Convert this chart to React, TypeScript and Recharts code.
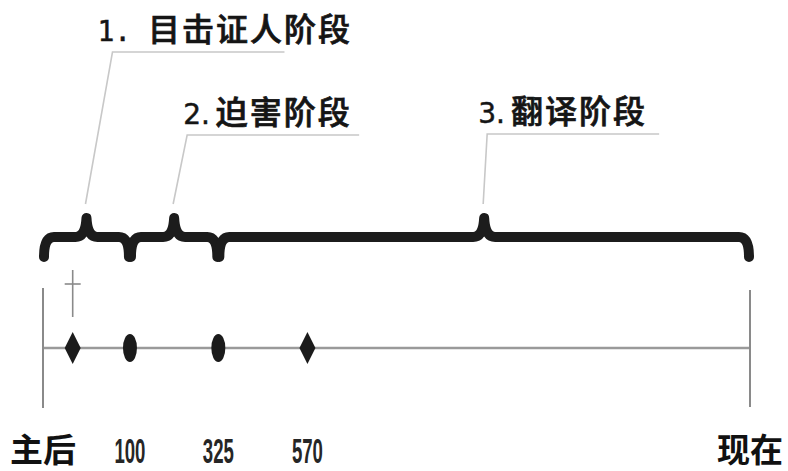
import { ScatterChart, Scatter, XAxis, YAxis, ReferenceLine, ReferenceArea } from "recharts";

// schematic positions along the timeline, 0 = 主后, 100 = 现在
const tickPos = [0, 12.3, 24.8, 37.4, 100];
const tickLabels = ["主后", "100", "325", "570", "现在"];

const eventPos = [4.2, 12.3, 24.8, 37.4];
const eventMarks = ["diamond", "dot", "dot", "diamond"];
const crossPos = [4.2];

const phaseLabels = ["1. 目击证人阶段", "2.迫害阶段", "3.翻译阶段"];
const phaseStart = [0, 12.3, 24.8];
const phaseEnd = [12.3, 24.8, 100];

// layout (y in px from top of plot)
const LINE_Y = 348;
const CROSS_Y = 294;
const BRACE_TOP = 218;
const BRACE_MID = 237;
const BRACE_BOTTOM = 257;
const LEADER_Y = [52, 135, 134];
const LEADER_DX = [26, 13, 3];
const TEXT_DX = [-15, -4, -9];

const events = eventPos.map((pos, i) => ({ pos, y: LINE_Y, mark: eventMarks[i] }));
const crosses = crossPos.map((pos) => ({ pos, y: CROSS_Y }));

const Marker = (props: any) => {
  const { cx, cy, payload } = props;
  if (payload.mark === "diamond") {
    return (
      <polygon
        points={`${cx},${cy - 16} ${cx + 8},${cy} ${cx},${cy + 16} ${cx - 8},${cy}`}
        fill="#1b1b1b"
      />
    );
  }
  return <ellipse cx={cx} cy={cy} rx={7} ry={14} fill="#1b1b1b" />;
};

const Cross = (props: any) => {
  const { cx } = props;
  return (
    <g stroke="#8a8a8a" strokeWidth={1.6}>
      <line x1={cx} y1={270} x2={cx} y2={317} />
      <line x1={cx - 8} y1={284} x2={cx + 8} y2={284} />
    </g>
  );
};

const makeBrace = (i: number) => (props: any) => {
  const { x, width } = props;
  const x0 = x;
  const x1 = x + width;
  const p = x + width / 2;
  const r = 11;
  const d = [
    `M${x0 + 1},${BRACE_BOTTOM}`,
    `Q${x0 + 1},${BRACE_MID} ${x0 + r},${BRACE_MID}`,
    `L${p - r},${BRACE_MID}`,
    `Q${p - 1},${BRACE_MID} ${p},${BRACE_TOP}`,
    `Q${p + 1},${BRACE_MID} ${p + r},${BRACE_MID}`,
    `L${x1 - r},${BRACE_MID}`,
    `Q${x1 - 1},${BRACE_MID} ${x1 - 1},${BRACE_BOTTOM}`,
  ].join(" ");
  const ly = LEADER_Y[i];
  const cornerX = p + LEADER_DX[i];
  const label = phaseLabels[i];
  const dot = label.indexOf(".");
  const num = label.slice(0, dot + 1);
  const rest = label.slice(dot + 1).trim();
  return (
    <g>
      <polyline
        points={`${p - 1},${BRACE_TOP - 14} ${cornerX},${ly} ${cornerX + 172},${ly}`}
        fill="none"
        stroke="#c8c8c8"
        strokeWidth={1.6}
      />
      <path d={d} fill="none" stroke="#1c1c1c" strokeWidth={10} strokeLinecap="round" strokeLinejoin="round" />
      <text x={cornerX + TEXT_DX[i]} y={ly - 11} fill="#151515" fontSize={32}>
        <tspan fontFamily={i === 0 ? "DejaVu Sans Mono" : "DejaVu Sans"} fontSize={28} stroke="#151515" strokeWidth={0.5}>
          {i === 0 ? num + " " : num}
        </tspan>
        <tspan
          dx={i === 0 ? 0 : 6}
          fontFamily="Noto Sans CJK SC"
          fontWeight={500}
          letterSpacing={2}
          stroke="#151515"
          strokeWidth={0.7}
        >
          {rest}
        </tspan>
      </text>
    </g>
  );
};

const AxisTick = (props: any) => {
  const { x, y, payload } = props;
  const label = tickLabels[tickPos.indexOf(payload.value)];
  if (!label) return null;
  if (/^\d+$/.test(label)) {
    return (
      <text
        x={x}
        y={y + 43}
        textAnchor="middle"
        fontFamily="Liberation Sans"
        fontWeight={700}
        fontSize={35}
        textLength={31}
        lengthAdjust="spacingAndGlyphs"
        fill="#262626"
      >
        {label}
      </text>
    );
  }
  return (
    <text x={x} y={y + 42} textAnchor="middle" fontFamily="Noto Sans CJK SC" fontWeight={700} fontSize={33} fill="#111">
      {label}
    </text>
  );
};

export default function App() {
  return (
    <div style={{ position: "absolute", left: 0, top: 0, width: 788, height: 471, background: "#fff" }}>
      <ScatterChart width={788} height={471} margin={{ top: 0, right: 38, bottom: 0, left: 43 }}>
        <XAxis
          type="number"
          dataKey="pos"
          domain={[0, 100]}
          ticks={tickPos}
          interval={0}
          axisLine={false}
          tickLine={false}
          tickSize={0}
          tickMargin={0}
          height={51}
          tick={<AxisTick />}
        />
        <YAxis type="number" dataKey="y" domain={[0, 420]} reversed hide />
        <ReferenceLine
          segment={[{ x: 0, y: LINE_Y }, { x: 100, y: LINE_Y }]}
          stroke="#9a9a9a"
          strokeWidth={2.5}
        />
        <ReferenceLine segment={[{ x: 0, y: 288 }, { x: 0, y: 408 }]} stroke="#8a8a8a" strokeWidth={2} />
        <ReferenceLine segment={[{ x: 100, y: 290 }, { x: 100, y: 407 }]} stroke="#8a8a8a" strokeWidth={2} />
        {phaseLabels.map((_, i) => (
          <ReferenceArea
            key={i}
            x1={phaseStart[i]}
            x2={phaseEnd[i]}
            y1={BRACE_TOP}
            y2={BRACE_BOTTOM}
            shape={makeBrace(i)}
          />
        ))}
        <Scatter data={crosses} shape={<Cross />} isAnimationActive={false} />
        <Scatter data={events} shape={<Marker />} isAnimationActive={false} />
      </ScatterChart>
    </div>
  );
}
